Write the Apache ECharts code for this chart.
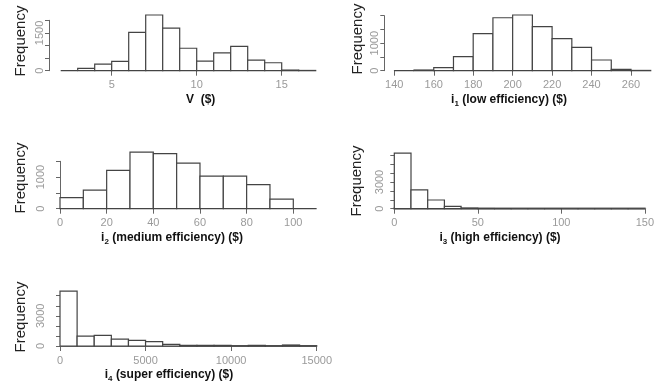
<!DOCTYPE html>
<html>
<head>
<meta charset="utf-8">
<script src="https://cdn.jsdelivr.net/npm/echarts@6/dist/echarts.min.js"></script>
<style>
  html, body { margin: 0; padding: 0; background: #fff; }
  #main { width: 657px; height: 387px; }
</style>
</head>
<body>
<div id="main"></div>
<script>
// bin start, bin width and counts per histogram
const vStart = 2, vWidth = 1
const vCounts = [0, 90, 260, 370, 1520, 2210, 1690, 890, 380, 710, 965, 420, 315, 25, 10]
const i1Start = 140, i1Width = 10
const i1Counts = [0, 25, 110, 510, 1345, 1925, 2025, 1600, 1165, 850, 390, 50, 10]
const i2Start = 0, i2Width = 10
const i2Counts = [350, 585, 1215, 1790, 1745, 1445, 1030, 1030, 765, 300, 0]
const i3Start = 0, i3Width = 10
const i3Counts = [6250, 2120, 980, 265, 60, 20, 10, 5, 5, 3, 2, 2, 1, 1, 1]
const i4Start = 0, i4Width = 1000
const i4Counts = [5450, 985, 1050, 690, 555, 425, 165, 65, 65, 65, 35, 65, 35, 100, 35]

// axis ticks and the labels R kept
const xTicks = [[5, 15, 5], [140, 260, 20], [0, 100, 20], [0, 150, 50], [0, 15000, 5000]]
const yTicks = [[2000, 500], [2000, 500], [1500, 500], [6000, 1000], [5000, 1000]]
const yShown = [[0, 1500], [0, 1000], [0, 1000], [0, 3000], [0, 3000]]

const bins = (start, w, counts) => counts.map((c, i) => [start + i * w, start + (i + 1) * w, c])
const hists = [
  bins(vStart, vWidth, vCounts),
  bins(i1Start, i1Width, i1Counts),
  bins(i2Start, i2Width, i2Counts),
  bins(i3Start, i3Width, i3Counts),
  bins(i4Start, i4Width, i4Counts)
]

// plot boxes: left, top, width, height, y axis offset
const boxes = [
  [111.7, 20.3, 170, 50.4, 62.7],
  [394.3, 15.7, 236.7, 55, 10],
  [60, 161.3, 233.3, 47.4, 10],
  [394.3, 155.3, 256.7, 53.4, 5],
  [60, 295.7, 256.7, 50.3, 10]
]

const axisGrey = '#666'
const labelGrey = '#9a9a9a'
const font = 'Liberation Sans'

const myChart = echarts.init(document.getElementById('main'))

const grid = boxes.map(b => ({ left: b[0], top: b[1], width: b[2], height: b[3] }))
const xAxis = xTicks.map((t, i) => ({
  type: 'value', gridIndex: i, min: t[0], max: t[1], interval: t[2],
  splitLine: { show: false },
  axisLine: { lineStyle: { color: i === 3 ? '#999' : axisGrey, width: i === 3 ? 2.5 : 1 } },
  axisTick: { length: 5, lineStyle: { color: axisGrey } },
  axisLabel: { color: labelGrey, fontFamily: font, fontSize: 11, margin: 9, formatter: v => String(v) }
}))
const yAxis = yTicks.map((t, i) => ({
  type: 'value', gridIndex: i, min: 0, max: t[0], interval: t[1],
  offset: boxes[i][4],
  splitLine: { show: false },
  axisLine: { show: true, lineStyle: { color: axisGrey, width: 1 } },
  axisTick: { show: true, length: 4, lineStyle: { color: axisGrey } },
  axisLabel: {
    color: labelGrey, fontFamily: font, fontSize: 11, rotate: 90, margin: 4,
    formatter: v => (yShown[i].includes(v) ? String(v) : '')
  }
}))

const series = hists.map((data, i) => ({
  type: 'custom', xAxisIndex: i, yAxisIndex: i, clip: false,
  data: data,
  renderItem: (params, api) => {
    const p0 = api.coord([api.value(0), api.value(2)])
    const p1 = api.coord([api.value(1), 0])
    return {
      type: 'rect',
      shape: { x: p0[0], y: p0[1], width: p1[0] - p0[0], height: p1[1] - p0[1] },
      style: { fill: '#fff', stroke: '#444', lineWidth: 1.2 }
    }
  }
}))

// axis titles
const freqPos = [[20.7, 41], [358.3, 39], [20.7, 178], [356.7, 181], [20.7, 317]]
const titlePos = [[200.7, 99.3], [509, 99.3], [172, 237.3], [500, 237.3], [169, 375]]
const titles = [
  '{a|V  ($)}',
  '{a|i}{s|1}{a| (low efficiency) ($)}',
  '{a|i}{s|2}{a| (medium efficiency) ($)}',
  '{a|i}{s|3}{a| (high efficiency) ($)}',
  '{a|i}{s|4}{a| (super efficiency) ($)}'
]
const graphic = []
freqPos.forEach(p => graphic.push({
  type: 'text', x: p[0], y: p[1], rotation: Math.PI / 2,
  style: { text: 'Frequency', font: '15px "Liberation Sans"', fill: '#222', align: 'center', verticalAlign: 'middle' }
}))
titles.forEach((t, i) => graphic.push({
  type: 'text', x: titlePos[i][0], y: titlePos[i][1],
  style: {
    text: t, fill: '#111', align: 'center', verticalAlign: 'middle',
    rich: {
      a: { font: 'bold 12px "Liberation Sans"', fill: '#111', lineHeight: 16 },
      s: { font: 'bold 8px "Liberation Sans"', fill: '#111', lineHeight: 16, verticalAlign: 'bottom' }
    }
  }
}))

myChart.setOption({
  animation: false,
  grid: grid,
  xAxis: xAxis,
  yAxis: yAxis,
  series: series,
  graphic: graphic
})
</script>
</body>
</html>
